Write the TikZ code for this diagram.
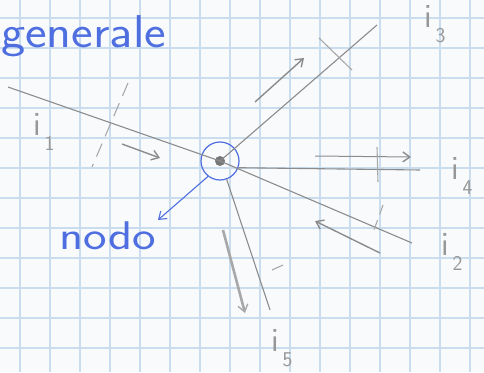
\documentclass[tikz,border=0pt]{standalone}
\usetikzlibrary{arrows.meta}
\definecolor{paper}{HTML}{F8FAFC}
\definecolor{gridblue}{HTML}{C9DDEE}
\definecolor{pencil}{HTML}{8C8C8C}
\definecolor{pencillight}{HTML}{A8A8A8}
\definecolor{ink}{HTML}{4F6FE0}
\tikzset{
  wire/.style={draw=pencil, line width=1.1pt},
  flow/.style={draw=pencil, line width=1.4pt, -{Straight Barb[length=7pt,width=10pt,line width=1.4pt]}},
  tick/.style={draw=pencillight, line width=1.1pt},
  lab/.style={text=pencil!90, font=\sffamily\fontsize{34}{36}\selectfont, inner sep=0pt},
  blue/.style={text=ink, font=\sffamily\fontsize{46}{50}\selectfont, inner sep=0pt},
}
\newcommand{\cur}[1]{i\raisebox{-0.45em}{\fontsize{21}{22}\selectfont\,#1}}
\begin{document}
\begin{tikzpicture}[x=1pt,y=-1pt]
\fill[paper] (0,0) rectangle (484,372);
\useasboundingbox (0,0) rectangle (484,372);
\begin{scope}
\clip (0,0) rectangle (484,372);
\foreach \x in {20,50,...,470} \draw[gridblue, line width=1.2pt] (\x,0) -- (\x,372);
\foreach \y in {18,48,...,360} \draw[gridblue, line width=1.2pt] (0,\y) -- (484,\y);
\end{scope}
% title
\node[blue, anchor=west] (title) at (1,36) {\scalebox{1.12}[1]{generale}};

% node
\node[circle, draw=ink, line width=1.2pt, minimum size=38pt, inner sep=0pt] (n) at (220,161) {};
\fill[pencil!85!black] (220,161) circle (5pt);
\coordinate (c) at (220,161);

% branch ends
\coordinate (e1) at (8,87);
\coordinate (e2) at (412,243);
\coordinate (e3) at (377,25);
\coordinate (e4) at (420,170);
\coordinate (e5) at (270,310);

\draw[wire] (e1) -- (c);
\draw[wire] (c) -- (e2);
\draw[wire] (c) -- (e3);
\draw[wire] (n.-20) -- (e4);
\draw[wire] (n.-70) -- (e5);

% current arrows
\coordinate (a1s) at (122,144); \coordinate (a1e) at (160,158);
\coordinate (a2s) at (380,253); \coordinate (a2e) at (315,221);
\coordinate (a3s) at (255,102); \coordinate (a3e) at (304,58);
\coordinate (a4s) at (315,156); \coordinate (a4e) at (411,157);
\coordinate (a5s) at (223,230); \coordinate (a5e) at (245,313);
\draw[flow] (a1s) -- (a1e);
\draw[flow] (a2s) -- (a2e);
\draw[flow] (a3s) -- (a3e);
\draw[flow, line width=1pt] (a4s) -- (a4e);
\draw[flow, draw=pencillight, line width=2.6pt] (a5s) -- (a5e);

% ticks
\draw[tick, dash pattern=on 14pt off 8pt] (128,83) -- (92,167);
\draw[tick] (319,38) -- (352,70);
\draw[tick] (377,147) -- (378,182);
\draw[tick, dash pattern=on 10pt off 6pt] (383,205) -- (374,230);
\draw[tick] (283,265) -- (272,270);

% labels
\node[lab] (i1) at (44,132) {\cur{1}};
\node[lab] (i2) at (452,252) {\cur{2}};
\node[lab] (i3) at (435,24) {\cur{3}};
\node[lab] (i4) at (462,176) {\cur{4}};
\node[lab] (i5) at (282,348) {\cur{5}};

% nodo label
\node[blue, font=\sffamily\fontsize{40}{44}\selectfont] (lbl) at (108,236) {\scalebox{1.25}[1]{nodo}};
\coordinate (p) at (158,220);
\draw[draw=ink, line width=1.1pt, -{Straight Barb[length=7pt,width=10pt,line width=1.1pt]}] (n.-128) -- (p);
\end{tikzpicture}
\end{document}
